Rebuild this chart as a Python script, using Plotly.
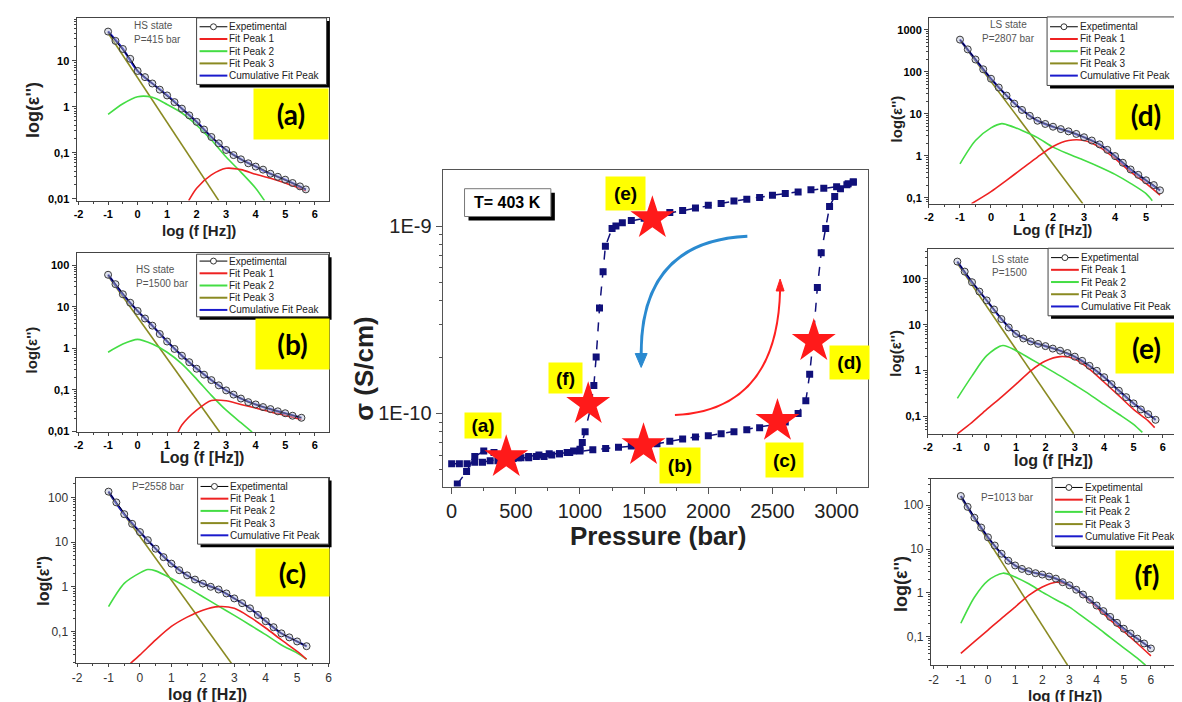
import plotly.graph_objects as go

W, H = 1182, 702

# ===================== DATA =====================
# Central hysteresis: conductivity vs pressure (T = 403 K)
P_UP = [44, 116, 180, 250, 330, 430, 520, 600, 680, 760, 840, 920, 1000, 1100, 1200, 1300, 1400, 1500, 1600, 1700,
        1800, 1900, 2000, 2100, 2200, 2300, 2400, 2500, 2600, 2700, 2760, 2790, 2815, 2850, 2880, 2915, 2945, 2985,
        3030, 3090, 3130]
SIG_UP = [4.2e-11, 4.9e-11, 5.9e-11, 6.3e-11, 6.2e-11, 6.0e-11, 5.8e-11, 5.9e-11, 6.0e-11, 6.1e-11,
          6.1e-11, 6.2e-11, 6.3e-11, 6.4e-11, 6.5e-11, 6.6e-11, 6.7e-11, 6.8e-11, 6.9e-11, 7.1e-11,
          7.3e-11, 7.5e-11, 7.6e-11, 7.8e-11, 8.0e-11, 8.2e-11, 8.4e-11, 8.7e-11, 9.0e-11, 1.0e-10,
          1.17e-10, 1.62e-10, 2.4e-10, 4.7e-10, 7.2e-10, 9.7e-10, 1.27e-9, 1.44e-9, 1.58e-9, 1.68e-9, 1.72e-9]
P_DOWN = [3130, 3080, 3000, 2900, 2800, 2700, 2600, 2500, 2400, 2300, 2200, 2100, 2000, 1900, 1800, 1700, 1600,
          1500, 1400, 1330, 1280, 1250, 1198, 1180, 1152, 1126, 1108, 1080, 1040, 1018, 1000, 950, 900, 840, 780,
          720, 660, 600, 540, 480, 420, 360, 300, 240, 180, 120, 60, 0]
SIG_DOWN = [1.72e-9, 1.66e-9, 1.62e-9, 1.59e-9, 1.56e-9, 1.52e-9, 1.49e-9, 1.46e-9, 1.42e-9, 1.39e-9,
            1.36e-9, 1.32e-9, 1.29e-9, 1.25e-9, 1.21e-9, 1.18e-9, 1.14e-9, 1.10e-9, 1.07e-9, 1.04e-9,
            1.0e-9, 9.7e-10, 7.8e-10, 5.7e-10, 3.65e-10, 2.0e-10, 1.41e-10, 1.05e-10, 8.0e-11, 7.0e-11,
            6.45e-11, 6.3e-11, 6.2e-11, 6.1e-11, 6.0e-11, 5.9e-11, 5.9e-11, 5.8e-11, 5.8e-11, 5.75e-11,
            5.7e-11, 5.6e-11, 5.6e-11, 5.5e-11, 5.5e-11, 5.4e-11, 5.4e-11, 5.4e-11]
STAR_P = [425, 1495, 2539, 2822, 1564, 1064]
STAR_SIG = [5.83e-11, 6.76e-11, 9.1e-11, 2.43e-10, 1.1e-9, 1.12e-10]
STAR_LABELS = ["(a)", "(b)", "(c)", "(d)", "(e)", "(f)"]

# Panel (a) HS state, P=415 bar
A_EXP_X = [-1, -0.75, -0.5, -0.25, 0, 0.25, 0.5, 0.75, 1, 1.25, 1.5, 1.75, 2, 2.25, 2.5, 2.75, 3, 3.25, 3.5, 3.75,
           4, 4.25, 4.5, 4.75, 5, 5.25, 5.5, 5.7]
A_EXP_Y = [43, 27, 18, 11, 6.0, 4.4, 3.2, 2.35, 1.76, 1.26, 0.91, 0.65, 0.47, 0.32, 0.22, 0.16, 0.115, 0.089, 0.072,
           0.059, 0.05, 0.043, 0.035, 0.030, 0.026, 0.022, 0.0186, 0.016]
A_CUM_X = [-1, -0.5, 0, 0.5, 1, 1.5, 2, 2.5, 3, 3.5, 4, 4.5, 5, 5.7]
A_CUM_Y = [43, 18, 6.0, 3.2, 1.76, 0.91, 0.47, 0.22, 0.115, 0.072, 0.05, 0.035, 0.026, 0.016]
A_P1_X = [1.73, 2.0, 2.5, 3.0, 3.5, 4.0, 4.5, 5.0, 5.7]
A_P1_Y = [0.0091, 0.017, 0.033, 0.046, 0.043, 0.034, 0.028, 0.022, 0.015]
A_P2_X = [-1, -0.5, 0, 0.5, 1, 1.5, 2, 2.5, 3, 3.5, 4, 4.3]
A_P2_Y = [0.68, 1.16, 1.65, 1.60, 1.12, 0.73, 0.40, 0.19, 0.081, 0.038, 0.017, 0.0091]
A_P3_X = [-1, 2.75]
A_P3_Y = [40, 0.0091]

# Panel (b) HS state, P=1500 bar
B_EXP_X = [-1, -0.75, -0.5, -0.25, 0, 0.25, 0.5, 0.75, 1, 1.25, 1.5, 1.75, 2, 2.25, 2.5, 2.75, 3, 3.25, 3.5, 3.75,
           4, 4.25, 4.5, 4.75, 5, 5.25, 5.55]
B_EXP_Y = [59, 35, 20, 12.5, 7.9, 5.2, 3.5, 2.2, 1.45, 0.96, 0.66, 0.46, 0.32, 0.23, 0.17, 0.127, 0.096, 0.076,
           0.061, 0.050, 0.044, 0.038, 0.034, 0.030, 0.027, 0.0235, 0.021]
B_CUM_X = [-1, -0.5, 0, 0.5, 1, 1.5, 2, 2.5, 3, 3.5, 4, 4.5, 5, 5.55]
B_CUM_Y = [59, 20, 7.9, 3.5, 1.45, 0.66, 0.32, 0.17, 0.096, 0.061, 0.044, 0.034, 0.027, 0.021]
B_P1_X = [1.37, 1.5, 2, 2.5, 3, 3.5, 4, 4.5, 5, 5.55]
B_P1_Y = [0.0095, 0.014, 0.032, 0.055, 0.054, 0.044, 0.036, 0.029, 0.024, 0.019]
B_P2_X = [-1, -0.5, 0, 0.5, 1, 1.5, 2, 2.5, 3, 3.5, 3.88]
B_P2_Y = [0.80, 1.26, 1.63, 1.26, 0.80, 0.42, 0.18, 0.073, 0.032, 0.016, 0.0095]
B_P3_X = [-1, 2.78]
B_P3_Y = [55, 0.0095]

# Panel (c) P=2558 bar
C_EXP_X = [-1, -0.75, -0.5, -0.25, 0, 0.25, 0.5, 0.75, 1, 1.25, 1.5, 1.75, 2, 2.25, 2.5, 2.75, 3, 3.25, 3.5, 3.75,
           4, 4.25, 4.5, 4.75, 5, 5.3]
C_EXP_Y = [134, 77, 42, 25.6, 16.7, 11, 7.1, 4.6, 3.3, 2.35, 1.8, 1.45, 1.18, 1.0, 0.87, 0.71, 0.55, 0.43, 0.33,
           0.235, 0.17, 0.125, 0.091, 0.074, 0.06, 0.047]
C_CUM_X = [-1, -0.5, 0, 0.5, 1, 1.5, 2, 2.5, 3, 3.5, 4, 4.5, 5, 5.3]
C_CUM_Y = [134, 42, 16.7, 7.1, 3.3, 1.8, 1.18, 0.87, 0.55, 0.33, 0.17, 0.091, 0.06, 0.047]
C_P1_X = [-0.3, 0, 0.5, 1, 1.5, 2, 2.5, 3, 3.5, 4, 4.5, 5, 5.3]
C_P1_Y = [0.0195, 0.030, 0.065, 0.13, 0.21, 0.30, 0.36, 0.33, 0.21, 0.12, 0.065, 0.036, 0.024]
C_P2_X = [-1, -0.5, 0, 0.25, 0.5, 1, 1.5, 2, 2.5, 3, 3.5, 4, 4.5, 5, 5.3]
C_P2_Y = [0.36, 1.19, 2.05, 2.43, 2.27, 1.53, 0.97, 0.60, 0.37, 0.23, 0.14, 0.085, 0.05, 0.033, 0.024]
C_P3_X = [-1, 2.95]
C_P3_Y = [125, 0.0178]

# Panel (d) LS state, P=2807 bar
D_EXP_X = [-1, -0.75, -0.5, -0.25, 0, 0.25, 0.5, 0.75, 1, 1.25, 1.5, 1.75, 2, 2.25, 2.5, 2.75, 3, 3.25, 3.5, 3.75,
           4, 4.25, 4.5, 4.75, 5, 5.25, 5.45]
D_EXP_Y = [580, 340, 195, 114, 68, 42, 27, 17.4, 12.3, 8.9, 6.8, 5.7, 4.9, 4.3, 3.8, 3.3, 2.75, 2.3, 1.86, 1.38,
           0.98, 0.68, 0.47, 0.35, 0.26, 0.20, 0.15]
D_CUM_X = [-1, -0.5, 0, 0.5, 1, 1.5, 2, 2.5, 3, 3.5, 4, 4.5, 5, 5.45]
D_CUM_Y = [580, 195, 68, 27, 12.3, 6.8, 4.9, 3.8, 2.75, 1.86, 0.98, 0.47, 0.26, 0.15]
D_P1_X = [-0.63, 0, 0.5, 1, 1.5, 2, 2.5, 3, 3.5, 4, 4.5, 5, 5.45]
D_P1_Y = [0.072, 0.14, 0.26, 0.49, 0.93, 1.66, 2.3, 2.3, 1.6, 0.85, 0.41, 0.22, 0.115]
D_P2_X = [-1, -0.5, 0, 0.35, 0.5, 1, 1.5, 2, 2.5, 3, 3.5, 4, 4.5, 5, 5.2]
D_P2_Y = [0.64, 2.3, 4.6, 5.8, 5.5, 4.0, 2.7, 1.6, 1.1, 0.78, 0.54, 0.36, 0.22, 0.125, 0.085]
D_P3_X = [-1, 2.96]
D_P3_Y = [560, 0.072]

# Panel (e) LS state, P=1500
E_EXP_X = [-1, -0.75, -0.5, -0.25, 0, 0.25, 0.5, 0.75, 1, 1.25, 1.5, 1.75, 2, 2.25, 2.5, 2.75, 3, 3.25, 3.5, 3.75,
           4, 4.25, 4.5, 4.75, 5, 5.25, 5.5, 5.75]
E_EXP_Y = [240, 145, 85, 53, 34, 21.5, 13.3, 8.7, 6.3, 5.0, 4.3, 3.8, 3.4, 3.0, 2.7, 2.4, 2.0, 1.62, 1.26, 0.98,
           0.71, 0.50, 0.36, 0.26, 0.19, 0.14, 0.11, 0.083]
E_CUM_X = [-1, -0.5, 0, 0.5, 1, 1.5, 2, 2.5, 3, 3.5, 4, 4.5, 5, 5.5, 5.75]
E_CUM_Y = [240, 85, 34, 13.3, 6.3, 4.3, 3.4, 2.7, 2.0, 1.26, 0.71, 0.36, 0.19, 0.11, 0.083]
E_P1_X = [-1, -0.5, 0, 0.5, 1, 1.5, 2, 2.5, 3, 3.5, 4, 4.5, 5, 5.5, 5.72]
E_P1_Y = [0.041, 0.073, 0.14, 0.26, 0.50, 0.98, 1.6, 2.0, 1.78, 1.07, 0.55, 0.28, 0.14, 0.079, 0.056]
E_P2_X = [-1, -0.5, 0, 0.55, 1, 1.5, 2, 2.5, 3, 3.5, 4, 4.5, 5, 5.3]
E_P2_Y = [0.245, 0.76, 2.1, 3.5, 2.7, 1.78, 1.17, 0.76, 0.48, 0.30, 0.18, 0.11, 0.066, 0.044]
E_P3_X = [-1, 2.96]
E_P3_Y = [220, 0.041]

# Panel (f) P=1013 bar
F_EXP_X = [-1, -0.75, -0.5, -0.25, 0, 0.25, 0.5, 0.75, 1, 1.25, 1.5, 1.75, 2, 2.25, 2.5, 2.75, 3, 3.25, 3.5, 3.75,
           4, 4.25, 4.5, 4.75, 5, 5.25, 5.5, 5.75, 6]
F_EXP_Y = [163, 92, 52, 31, 18.5, 12, 7.8, 5.4, 4.2, 3.5, 3.1, 2.8, 2.6, 2.35, 2.1, 1.74, 1.48, 1.17, 0.91, 0.69,
           0.51, 0.38, 0.28, 0.205, 0.15, 0.117, 0.089, 0.069, 0.053]
F_CUM_X = [-1, -0.5, 0, 0.5, 1, 1.5, 2, 2.5, 3, 3.5, 4, 4.5, 5, 5.5, 6]
F_CUM_Y = [163, 52, 18.5, 7.8, 4.2, 3.1, 2.6, 2.1, 1.48, 0.91, 0.51, 0.28, 0.15, 0.089, 0.053]
F_P1_X = [-1, -0.5, 0, 0.5, 1, 1.5, 2, 2.5, 3, 3.5, 4, 4.5, 5, 5.5, 6]
F_P1_Y = [0.041, 0.076, 0.14, 0.26, 0.47, 0.87, 1.35, 1.74, 1.48, 0.87, 0.47, 0.24, 0.13, 0.069, 0.036]
F_P2_X = [-1, -0.5, 0, 0.55, 1, 1.5, 2, 2.5, 3, 3.5, 4, 4.5, 5, 5.5, 5.8]
F_P2_Y = [0.20, 0.79, 1.9, 2.8, 2.3, 1.6, 1.03, 0.69, 0.47, 0.28, 0.165, 0.095, 0.055, 0.032, 0.022]
F_P3_X = [-1, 2.93]
F_P3_Y = [150, 0.022]

LEGEND_NAMES = ["Expetimental", "Fit Peak 1", "Fit Peak 2", "Fit Peak 3", "Cumulative Fit Peak"]
Y_LABELS = {0.01: "0,01", 0.1: "0,1", 1: "1", 10: "10", 100: "100", 1000: "1000"}

# ===================== STYLE =====================
RED, GREEN, OLIVE, BLUE = "#ee2222", "#44dd44", "#8a8a22", "#1a1acc"
NAVY = "#10107a"
FONT = "Liberation Sans"


def px(x):
    return x / W


def py(y):
    return 1 - y / H


def ann(text, x, y, size, color="#222", family=FONT, xanchor="center", yanchor="middle", **kw):
    d = dict(text=text, x=px(x), y=py(y), xref="paper", yref="paper", showarrow=False,
             xanchor=xanchor, yanchor=yanchor, font=dict(family=family, size=size, color=color))
    d.update(kw)
    return d


panels = [
    dict(exp=(A_EXP_X, A_EXP_Y), cum=(A_CUM_X, A_CUM_Y), p1=(A_P1_X, A_P1_Y), p2=(A_P2_X, A_P2_Y), p3=(A_P3_X, A_P3_Y),
         box=(64, 10, 318, 194), xr=[-2.07, 6.47], yr=[-2.04, 1.93], xt=list(range(-2, 7)), yt=[0.01, 0.1, 1, 10],
         bold=True, leg=(185, 10, 316, 77), lab="(a)", labbox=(243, 82, 317, 132),
         notes=[("HS state", 120, 18), ("P=415 bar", 120, 32)],
         ytitle=(20, 103, 18), xtitle=("log (f [Hz])", 187, 224, 15)),
    dict(exp=(B_EXP_X, B_EXP_Y), cum=(B_CUM_X, B_CUM_Y), p1=(B_P1_X, B_P1_Y), p2=(B_P2_X, B_P2_Y), p3=(B_P3_X, B_P3_Y),
         box=(64, 247, 318, 427), xr=[-2.07, 6.47], yr=[-2.02, 2.29], xt=list(range(-2, 7)),
         yt=[0.01, 0.1, 1, 10, 100], bold=True, leg=(185, 248, 318, 311), lab="(b)", labbox=(245, 313, 318, 363),
         notes=[("HS state", 122, 263), ("P=1500 bar", 122, 277)],
         ytitle=(19, 344, 15), xtitle=("Log (f [Hz])", 190, 453, 16)),
    dict(exp=(C_EXP_X, C_EXP_Y), cum=(C_CUM_X, C_CUM_Y), p1=(C_P1_X, C_P1_Y), p2=(C_P2_X, C_P2_Y), p3=(C_P3_X, C_P3_Y),
         box=(63, 473, 318, 660), xr=[-2.05, 6.0], yr=[-1.71, 2.44], xt=list(range(-2, 7)), yt=[0.1, 1, 10, 100],
         bold=False, leg=(186, 473, 318, 540), lab="(c)", labbox=(245, 545, 318, 592),
         notes=[("P=2558 bar", 118, 482)],
         ytitle=(31, 577, 16), xtitle=("log (f [Hz])", 196, 691, 16)),
    dict(exp=(D_EXP_X, D_EXP_Y), cum=(D_CUM_X, D_CUM_Y), p1=(D_P1_X, D_P1_Y), p2=(D_P2_X, D_P2_Y), p3=(D_P3_X, D_P3_Y),
         box=(923, 10, 1173, 197), xr=[-2.0, 6.0], yr=[-1.14, 3.28], xt=list(range(-2, 7)),
         yt=[0.1, 1, 10, 100, 1000], bold=True, leg=(1042, 9, 1172, 78), lab="(d)", labbox=(1112, 83, 1172, 132),
         notes=[("LS state", 982, 17), ("P=2807 bar", 974, 31)],
         ytitle=(890, 112, 15), xtitle=("Log (f [Hz])", 1047, 223, 15)),
    dict(exp=(E_EXP_X, E_EXP_Y), cum=(E_CUM_X, E_CUM_Y), p1=(E_P1_X, E_P1_Y), p2=(E_P2_X, E_P2_Y), p3=(E_P3_X, E_P3_Y),
         box=(922, 243, 1175, 429), xr=[-2.0, 6.55], yr=[-1.39, 2.65], xt=list(range(-2, 7)),
         yt=[0.1, 1, 10, 100], bold=True, leg=(1043, 242, 1173, 310), lab="(e)", labbox=(1112, 317, 1173, 367),
         notes=[("LS state", 984, 253), ("P=1500", 984, 266)],
         ytitle=(889, 348, 15), xtitle=("log (f [Hz])", 1048, 456, 16)),
    dict(exp=(F_EXP_X, F_EXP_Y), cum=(F_CUM_X, F_CUM_Y), p1=(F_P1_X, F_P1_Y), p2=(F_P2_X, F_P2_Y), p3=(F_P3_X, F_P3_Y),
         box=(925, 474, 1174, 662), xr=[-2.1, 7.0], yr=[-1.66, 2.61], xt=list(range(-2, 8)),
         yt=[0.1, 1, 10, 100], bold=False, leg=(1047, 473, 1172, 542), lab="(f)", labbox=(1112, 547, 1174, 595),
         notes=[("P=1013 bar", 973, 493)],
         ytitle=(895, 580, 18), xtitle=("log (f [Hz])", 1060, 692, 15)),
]

fig = go.Figure()
layout = dict(width=W, height=H, margin=dict(l=0, r=0, t=0, b=0), autosize=False, showlegend=False,
              paper_bgcolor="white", plot_bgcolor="white")
shapes, annots = [], []

# ---------------- central plot (axis 1) ----------------
fig.add_trace(go.Scatter(x=P_UP, y=SIG_UP, mode="lines+markers", xaxis="x", yaxis="y",
                         line=dict(color=NAVY, width=1.5, dash="dash"),
                         marker=dict(symbol="square", size=7, color=NAVY)))
fig.add_trace(go.Scatter(x=P_DOWN, y=SIG_DOWN, mode="lines+markers", xaxis="x", yaxis="y",
                         line=dict(color=NAVY, width=1.5, dash="dash"),
                         marker=dict(symbol="square", size=7, color=NAVY)))
fig.add_trace(go.Scatter(x=STAR_P, y=STAR_SIG, mode="markers", xaxis="x", yaxis="y",
                         marker=dict(symbol="star", size=33, color="#ff1a1a", line=dict(width=0))))

cen_minor_y = [k * 1e-11 for k in range(5, 10)] + [k * 1e-10 for k in range(2, 10)] + [2e-9]
layout["xaxis"] = dict(domain=[px(433), px(862)], range=[-70, 3248], anchor="y", showgrid=False, zeroline=False,
                       showline=True, mirror=True, linecolor="#555", linewidth=1.2, ticks="outside", ticklen=6,
                       tickcolor="#555", tickvals=list(range(0, 3001, 500)),
                       ticktext=[str(v) for v in range(0, 3001, 500)],
                       tickfont=dict(family=FONT, size=20, color="#222"),
                       minor=dict(ticks="outside", ticklen=3, tickcolor="#555",
                                  tickvals=list(range(250, 3001, 500))))
layout["yaxis"] = dict(domain=[py(482), py(163)], type="log", range=[-10.39, -8.70], anchor="x", showgrid=False,
                       zeroline=False, showline=True, mirror=True, linecolor="#555", linewidth=1.2,
                       ticks="outside", ticklen=6, tickcolor="#555", tickvals=[1e-10, 1e-9],
                       ticktext=["1E-10", "1E-9"], tickfont=dict(family=FONT, size=20, color="#222"),
                       minor=dict(ticks="outside", ticklen=3, tickcolor="#555", tickvals=cen_minor_y))

annots.append(ann("<b>σ (S/cm)</b>", 354, 363, 26, textangle=-90))
annots.append(ann("<b>Pressure (bar)</b>", 650, 532, 26))

# T box
shapes.append(dict(type="rect", xref="paper", yref="paper", x0=px(459), x1=px(546), y0=py(214), y1=py(186),
                   fillcolor="black", line=dict(width=0), layer="above"))
shapes.append(dict(type="rect", xref="paper", yref="paper", x0=px(455), x1=px(542), y0=py(210), y1=py(182),
                   fillcolor="white", line=dict(color="#777", width=1), layer="above"))
annots.append(ann("<b>T= 403 K</b>", 498, 196, 16, color="black"))

# star labels
star_boxes = [(474, 420, 36, 25), (672, 461, 40, 35), (777, 455, 37, 34), (843, 357, 39, 33),
              (617, 187, 39, 33), (557, 373, 33, 30)]
for lab, (cx, cy, bw, bh) in zip(STAR_LABELS, star_boxes):
    annots.append(ann("<b>%s</b>" % lab, cx, cy, 19, color="black", width=bw, height=bh,
                      bgcolor="#ffff00", borderpad=0))

# curved arrows
shapes.append(dict(type="path", xref="paper", yref="paper", layer="above",
                   path="M %f,%f Q %f,%f %f,%f" % (px(740), py(230), px(632), py(235), px(633), py(350)),
                   line=dict(color="#2a8ad0", width=3)))
shapes.append(dict(type="path", xref="paper", yref="paper", layer="above", fillcolor="#2a8ad0",
                   path="M %f,%f L %f,%f L %f,%f Z" % (px(627), py(348), px(639), py(348), px(633), py(362)),
                   line=dict(color="#2a8ad0", width=1)))
shapes.append(dict(type="path", xref="paper", yref="paper", layer="above",
                   path="M %f,%f Q %f,%f %f,%f" % (px(667), py(410), px(770), py(405), px(773), py(284)),
                   line=dict(color="#ff2020", width=2)))
shapes.append(dict(type="path", xref="paper", yref="paper", layer="above", fillcolor="#ff2020",
                   path="M %f,%f L %f,%f L %f,%f Z" % (px(769), py(285), px(777), py(285), px(773), py(273)),
                   line=dict(color="#ff2020", width=1)))

# ---------------- side panels ----------------
for i, p in enumerate(panels):
    n = i + 2
    xa, ya = "x%d" % n, "y%d" % n
    for key, color, wdt in (("p3", OLIVE, 1.6), ("p2", GREEN, 1.6), ("p1", RED, 1.6), ("cum", BLUE, 2.2)):
        xs, ys = p[key]
        if key == "p3":
            line = dict(color=color, width=wdt, shape="linear")
        else:
            line = dict(color=color, width=wdt, shape="spline", smoothing=0.8)
        fig.add_trace(go.Scatter(x=xs, y=ys, mode="lines", xaxis=xa, yaxis=ya, line=line))
    xs, ys = p["exp"]
    fig.add_trace(go.Scatter(x=xs, y=ys, mode="lines+markers", xaxis=xa, yaxis=ya,
                             line=dict(color="black", width=1),
                             marker=dict(symbol="circle", size=7, color="rgba(185,190,215,0.45)",
                                         line=dict(color="#3a3a3a", width=1))))
    L, T, R, B = p["box"]
    if p["bold"]:
        tfont = dict(family=FONT, size=11, color="black", weight="bold")
    else:
        tfont = dict(family=FONT, size=12, color="#333")
    lo, hi = p["yr"]
    minor_y = []
    for d in range(int(lo) - 1, int(hi) + 2):
        for k in range(2, 10):
            minor_y.append(k * 10.0 ** d)
    xminor = [v + 0.5 for v in p["xt"]]
    layout["xaxis%d" % n] = dict(domain=[px(L), px(R)], range=p["xr"], anchor=ya, showgrid=False, zeroline=False,
                                 showline=True, mirror=True, linecolor="#444", linewidth=1, ticks="outside",
                                 ticklen=3, tickcolor="#444", tickvals=p["xt"], ticktext=[str(v) for v in p["xt"]],
                                 tickfont=tfont,
                                 minor=dict(ticks="outside", ticklen=2, tickcolor="#444", tickvals=xminor))
    layout["yaxis%d" % n] = dict(domain=[py(B), py(T)], type="log", range=p["yr"], anchor=xa, showgrid=False,
                                 zeroline=False, showline=True, mirror=True, linecolor="#444", linewidth=1,
                                 ticks="outside", ticklen=4, tickcolor="#444", tickvals=p["yt"],
                                 ticktext=[Y_LABELS[v] for v in p["yt"]], tickfont=tfont,
                                 minor=dict(ticks="outside", ticklen=2, tickcolor="#444", tickvals=minor_y))
    tx, ty, ts = p["ytitle"]
    annots.append(ann("<b>log(ε'')</b>", tx, ty, ts, textangle=-90))
    t, tx, ty, ts = p["xtitle"]
    annots.append(ann("<b>%s</b>" % t, tx, ty, ts))
    for txt, nx, ny in p["notes"]:
        annots.append(ann(txt, nx, ny, 10, color="#555", xanchor="left"))
    bl, bt, br, bb = p["labbox"]
    annots.append(ann("<b>%s</b>" % p["lab"], (bl + br) / 2, (bt + bb) / 2, 28, color="black", family="Lato",
                      width=br - bl, height=bb - bt, bgcolor="#ffff00", borderpad=0))
    gl, gt, gr, gb = p["leg"]
    shapes.append(dict(type="rect", xref="paper", yref="paper", x0=px(gl + 3), x1=px(gr + 3), y0=py(gb + 3),
                       y1=py(gt + 3), fillcolor="black", line=dict(width=0), layer="above"))
    shapes.append(dict(type="rect", xref="paper", yref="paper", x0=px(gl), x1=px(gr), y0=py(gb), y1=py(gt),
                       fillcolor="white", line=dict(color="#444", width=1), layer="above"))
    step = 12.3
    off = (gb - gt - 4 * step) / 2
    for j, (name, col) in enumerate(zip(LEGEND_NAMES, ["black", RED, GREEN, OLIVE, BLUE])):
        yy = gt + off + j * step
        shapes.append(dict(type="line", xref="paper", yref="paper", x0=px(gl + 3), x1=px(gl + 31), y0=py(yy),
                           y1=py(yy), line=dict(color=col, width=1 if j == 0 else 2), layer="above"))
        if j == 0:
            shapes.append(dict(type="circle", xref="paper", yref="paper", x0=px(gl + 14), x1=px(gl + 20),
                               y0=py(yy + 3), y1=py(yy - 3), fillcolor="white",
                               line=dict(color="#333", width=1), layer="above"))
        annots.append(ann(name, gl + 31, yy, 10, xanchor="left"))

layout["shapes"] = shapes
layout["annotations"] = annots
fig.update_layout(**layout)
fig.write_html("out.html")
